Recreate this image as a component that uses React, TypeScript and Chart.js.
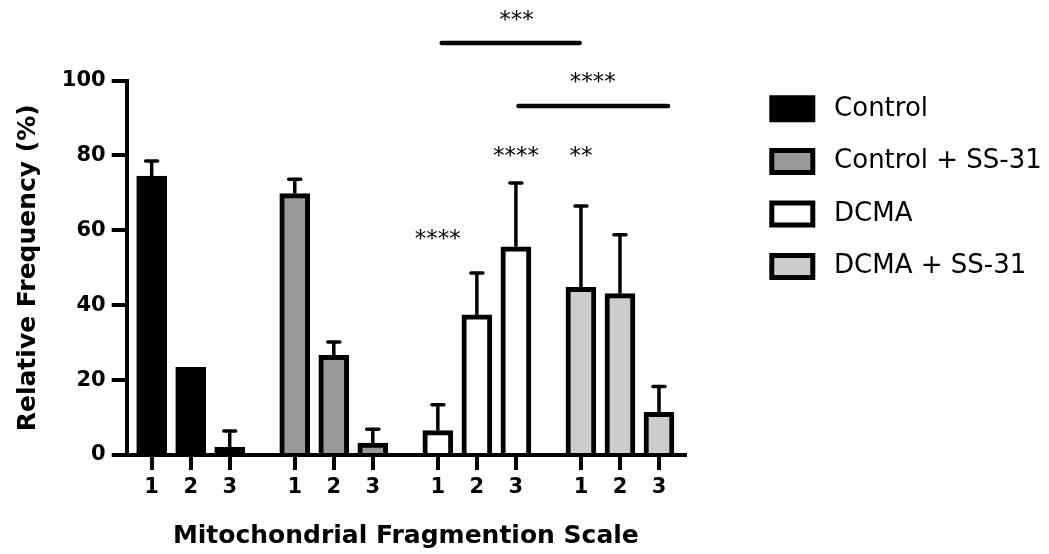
import React, { useEffect, useRef } from "react";
import { Chart, registerables } from "chart.js";

Chart.register(...registerables);

// ---- data ----
const groupNames = ["Control", "Control + SS-31", "DCMA", "DCMA + SS-31"];
const scaleLabels = ["1", "2", "3"];
const controlMeans = [74.5, 23.4, 2.1];
const controlSD = [4.0, 0, 4.3];
const controlSSMeans = [69.8, 26.6, 3.2];
const controlSSSD = [3.8, 3.6, 3.7];
const dcmaMeans = [6.5, 37.4, 55.6];
const dcmaSD = [6.9, 11.2, 17.0];
const dcmaSSMeans = [44.8, 43.1, 11.4];
const dcmaSSSD = [21.7, 15.7, 6.9];
const yTickValues = [0, 20, 40, 60, 80, 100];

// significance annotations (x in slot units, y in % units)
const starTexts = ["****", "****", "**", "***", "****"];
const starX = [22, 28, 33, 28.05, 33.9];
const starY = [58.8, 81.0, 81.0, 117.3, 100.7];
const bracketFrom = [22.3, 28.2];
const bracketTo = [32.9, 39.7];
const bracketY = [110, 93.2];

// ---- layout helpers ----
const groupStart = [0, 11, 22, 33];
const slotStep = 3;
const means = [controlMeans, controlSSMeans, dcmaMeans, dcmaSSMeans];
const sds = [controlSD, controlSSSD, dcmaSD, dcmaSSSD];
const fills = ["#000000", "#999999", "#ffffff", "#cccccc"];
const positions: number[] = [];
groupStart.forEach((g) => scaleLabels.forEach((_, i) => positions.push(g + i * slotStep)));

const FAMILY = "'DejaVu Sans', sans-serif";

const errorBarsPlugin = {
  id: "errorBars",
  afterDatasetsDraw(chart: any) {
    const ctx = chart.ctx;
    const ys = chart.scales.y;
    ctx.save();
    ctx.strokeStyle = "#000";
    means.forEach((arr, g) => {
      const meta = chart.getDatasetMeta(g);
      arr.forEach((m, i) => {
        const e = sds[g][i];
        if (!e) return;
        const bar = meta.data[i];
        const x = bar.x;
        const y0 = ys.getPixelForValue(m);
        const y1 = ys.getPixelForValue(m + e);
        ctx.lineWidth = 3.5;
        ctx.lineCap = "butt";
        ctx.beginPath();
        ctx.moveTo(x, y0);
        ctx.lineTo(x, y1);
        ctx.stroke();
        ctx.lineCap = "round";
        ctx.beginPath();
        ctx.moveTo(x - 6, y1);
        ctx.lineTo(x + 6, y1);
        ctx.stroke();
      });
    });
    ctx.restore();
  },
};

const annotationPlugin = {
  id: "sigAnnotations",
  afterDraw(chart: any) {
    const ctx = chart.ctx;
    const xs = chart.scales.x;
    const ys = chart.scales.y;
    ctx.save();
    ctx.strokeStyle = "#000";
    ctx.fillStyle = "#000";
    ctx.lineWidth = 4.5;
    ctx.lineCap = "round";
    bracketY.forEach((yv, i) => {
      const y = ys.getPixelForValue(yv);
      ctx.beginPath();
      ctx.moveTo(xs.getPixelForValue(bracketFrom[i]), y);
      ctx.lineTo(xs.getPixelForValue(bracketTo[i]), y);
      ctx.stroke();
    });
    ctx.font = `23px ${FAMILY}`;
    ctx.textAlign = "center";
    ctx.textBaseline = "alphabetic";
    starTexts.forEach((t, i) => {
      const m = ctx.measureText(t);
      const cy = ys.getPixelForValue(starY[i]);
      const base = cy - (m.actualBoundingBoxDescent - m.actualBoundingBoxAscent) / 2;
      ctx.fillText(t, xs.getPixelForValue(starX[i]), base);
    });
    ctx.restore();
  },
};

export default function App() {
  const ref = useRef<HTMLCanvasElement | null>(null);

  useEffect(() => {
    if (!ref.current) return;
    const datasets = groupNames.map((name, g) => ({
      label: name,
      data: means[g].map((v, i) => ({ x: groupStart[g] + i * slotStep, y: v })),
      backgroundColor: fills[g],
      borderColor: "#000000",
      borderWidth: 5,
      barThickness: 30,
      grouped: false,
    }));

    const chart = new Chart(ref.current, {
      type: "bar",
      data: { datasets } as any,
      plugins: [errorBarsPlugin, annotationPlugin],
      options: {
        responsive: false,
        animation: false,
        devicePixelRatio: 1,
        layout: { padding: { top: 69.2, left: 0, right: 0, bottom: 0 } },
        plugins: {
          title: {
            display: true,
            text: "",
            padding: 0,
            font: { size: 10, lineHeight: 1.13 },
          },
          legend: {
            position: "right",
            align: "start",
            maxWidth: 303.8,
            labels: {
              boxWidth: 41,
              boxHeight: 22,
              padding: 26.6,
              color: "#000",
              font: { family: FAMILY, size: 26 },
              generateLabels: (c: any) =>
                (Chart.defaults.plugins.legend.labels as any)
                  .generateLabels(c)
                  .map((l: any) => ({ ...l, text: " " + l.text })),
            },
          },
          tooltip: { enabled: false },
        },
        scales: {
          x: {
            type: "linear",
            bounds: "data",
            offset: false,
            min: -1.92,
            max: 41,
            z: 1,
            afterBuildTicks: (s: any) => {
              s.ticks = positions.map((v) => ({ value: v }));
            },
            afterFit: (s: any) => {
              s.height = 99;
            },
            ticks: {
              autoSkip: false,
              maxRotation: 0,
              padding: 5,
              color: "#000",
              font: { family: FAMILY, size: 21, weight: "bold" },
              callback: (_v: any, i: number) => scaleLabels[i % scaleLabels.length],
            },
            grid: {
              offset: false,
              drawOnChartArea: false,
              drawTicks: true,
              tickLength: 15,
              lineWidth: 4,
              color: "#000",
            },
            border: { display: true, width: 4, color: "#000" },
            title: {
              display: true,
              text: "Mitochondrial Fragmention Scale",
              color: "#000",
              font: { family: FAMILY, size: 25, weight: "bold" },
              padding: { top: 0, bottom: 2.7 },
            },
          },
          y: {
            type: "linear",
            min: 0,
            max: 100,
            z: 1,
            afterBuildTicks: (s: any) => {
              s.ticks = yTickValues.map((v) => ({ value: v }));
            },
            afterFit: (s: any) => {
              s.width = 126.7;
            },
            ticks: {
              padding: 6,
              color: "#000",
              font: { family: FAMILY, size: 21, weight: "bold" },
            },
            grid: {
              drawOnChartArea: false,
              drawTicks: true,
              tickLength: 15,
              lineWidth: 4,
              color: "#000",
            },
            border: { display: true, width: 4, color: "#000" },
            title: {
              display: true,
              text: "Relative Frequency (%)",
              color: "#000",
              font: { family: FAMILY, size: 25, weight: "bold" },
              padding: { top: 13, bottom: 0 },
            },
          },
          gap: {
            type: "linear",
            position: "right",
            display: true,
            grid: { display: false },
            ticks: { display: false },
            border: { display: false },
            afterFit: (s: any) => {
              s.width = 60.2;
            },
          },
        },
      } as any,
    });
    return () => chart.destroy();
  }, []);

  return (
    <div style={{ position: "absolute", left: 0, top: 0, width: 1049, height: 554, background: "#fff" }}>
      <canvas ref={ref} width={1049} height={554} style={{ width: 1049, height: 554, display: "block" }} />
    </div>
  );
}
